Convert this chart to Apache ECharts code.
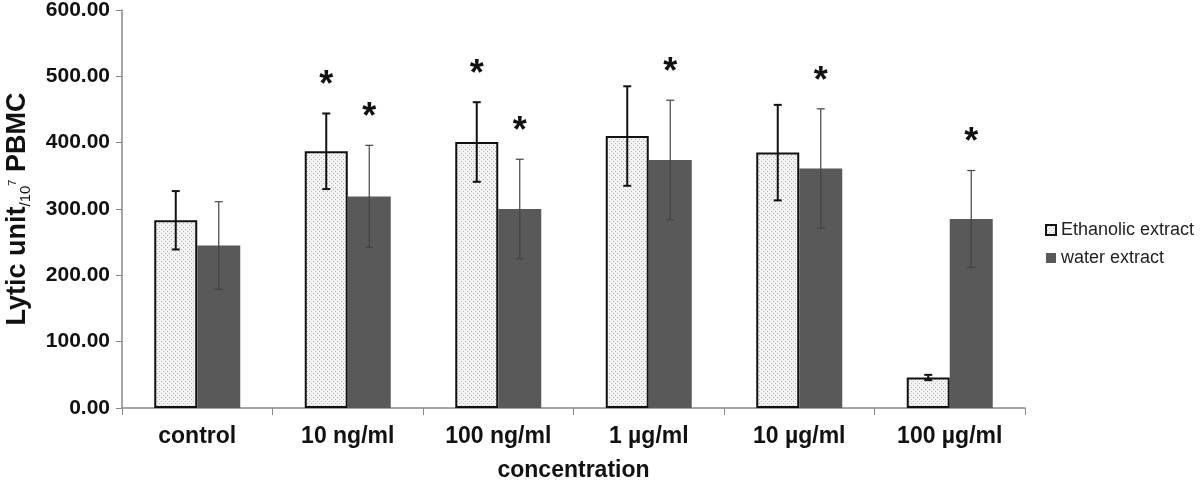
<!DOCTYPE html>
<html><head><meta charset="utf-8">
<script src="https://cdn.jsdelivr.net/npm/echarts@6/dist/echarts.min.js"></script>
<style>html,body{margin:0;padding:0;background:#fff}#c{width:1200px;height:487px}</style>
</head><body><div id="c"></div>
<script>
const categories = ['control','10 ng/ml','100 ng/ml','1 µg/ml','10 µg/ml','100 µg/ml'];
const ethanolic = [283, 387, 401, 410, 385, 46];
const ethanolicErr = [44, 57, 60, 75, 72, 4];
const water = [245, 319, 300, 374, 361, 285];
const waterErr = [66, 77, 75, 90, 90, 73];
const ethanolicStar = [0, 1, 1, 0, 0, 0];
const waterStar = [0, 1, 1, 1, 1, 1];
const yTicks = [0, 100, 200, 300, 400, 500, 600];

// dotted fill pattern
const pc = document.createElement('canvas');
pc.width = 4; pc.height = 4;
const px = pc.getContext('2d');
px.fillStyle = '#f3f3f3'; px.fillRect(0,0,4,4);
px.fillStyle = '#b4b4b4'; px.fillRect(1,1,1,1); px.fillRect(3,3,1,1);

const BW = 43;
function errSeries(vals, errs, stars, offset, lw, color) {
  return {
    type: 'custom', z: 5,
    data: vals.map((v,i)=>[i, v, errs[i], stars[i]]),
    renderItem: function(params, api){
      const i = api.value(0), v = api.value(1), e = api.value(2), s = api.value(3);
      const top = api.coord([i, v + e]);
      const bot = api.coord([i, v - e]);
      const x = top[0] + offset;
      const cap = 4;
      const children = [
        {type:'line', shape:{x1:x,y1:top[1],x2:x,y2:bot[1]}, style:{stroke:color,lineWidth:lw}},
        {type:'line', shape:{x1:x-cap,y1:top[1],x2:x+cap,y2:top[1]}, style:{stroke:color,lineWidth:lw}},
        {type:'line', shape:{x1:x-cap,y1:bot[1],x2:x+cap,y2:bot[1]}, style:{stroke:color,lineWidth:lw}}
      ];
      if (s) children.push({type:'text', style:{text:'*', x:x, y:top[1]-9, align:'center', verticalAlign:'bottom', font:'bold 36px Arial, "Liberation Sans"', fill:'#111'}});
      return {type:'group', children};
    }
  };
}

const chart = echarts.init(document.getElementById('c'));
chart.setOption({
  animation: false,
  textStyle: {fontFamily: 'Arial, "Liberation Sans", sans-serif'},
  grid: {left: 122, right: 175, top: 10, bottom: 79, containLabel: false, outerBoundsMode: 'none'},
  legend: {
    orient: 'vertical', left: 1040, top: 216, itemGap: 10,
    itemWidth: 10, itemHeight: 10, icon: 'rect',
    textStyle: {fontSize: 18, color: '#222'},
    data: ['Ethanolic extract', 'water extract']
  },
  xAxis: {
    type: 'category', data: categories,
    axisLine: {lineStyle: {color: '#888', width: 1.5}},
    axisTick: {show: true, length: 7, lineStyle: {color: '#888'}},
    axisLabel: {fontSize: 23, fontWeight: 'bold', color: '#111', margin: 17},
    name: 'concentration', nameLocation: 'middle', nameGap: 51,
    nameTextStyle: {fontSize: 23, fontWeight: 'bold', color: '#111'}
  },
  yAxis: {
    type: 'value', min: 0, max: 600, interval: 100,
    axisLine: {show: true, lineStyle: {color: '#888', width: 1.5}},
    axisTick: {show: true, length: 6, lineStyle: {color: '#888'}},
    splitLine: {show: false},
    axisLabel: {fontSize: 21, fontWeight: 'bold', color: '#111', margin: 12,
      formatter: v => yTicks.includes(v) ? v.toFixed(2) : ''},
    name: '{a|Lytic unit}{b|/10}{c|7}{a| PBMC}',
    nameLocation: 'middle', nameGap: 89, nameRotate: 90,
    nameTextStyle: {
      rich: {
        a: {fontSize: 27, fontWeight: 'bold', color: '#111', fontFamily: 'Arial, "Liberation Sans"', lineHeight: 30},
        b: {fontSize: 15, color: '#111', fontFamily: 'Arial, "Liberation Sans"', verticalAlign: 'bottom', lineHeight: 30, padding:[6,0,0,0]},
        c: {fontSize: 11, color: '#111', fontFamily: 'Arial, "Liberation Sans"', verticalAlign: 'top', lineHeight: 30, padding:[4,0,0,0]}
      }
    }
  },
  series: [
    {name: 'Ethanolic extract', type: 'bar', data: ethanolic, barWidth: BW, barGap: '0%',
     itemStyle: {color: {image: pc, repeat: 'repeat'}, borderColor: '#111', borderWidth: 2}},
    {name: 'water extract', type: 'bar', data: water, barWidth: BW, barGap: '0%',
     itemStyle: {color: '#595959'}},
    errSeries(ethanolic, ethanolicErr, ethanolicStar, -BW/2, 2, '#111'),
    errSeries(water, waterErr, waterStar, BW/2, 1.2, '#444')
  ]
});
</script></body></html>
